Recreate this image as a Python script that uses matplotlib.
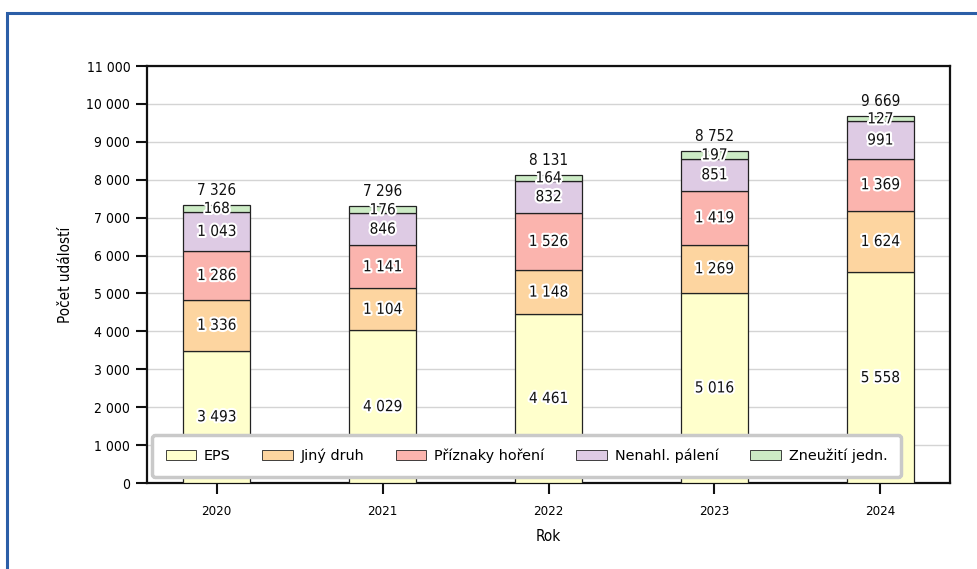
import matplotlib
matplotlib.use("Agg")
import matplotlib.pyplot as plt
import matplotlib.patheffects as pe
from matplotlib import font_manager
from matplotlib.patches import Rectangle
import numpy as np

# data
years = ["2020", "2021", "2022", "2023", "2024"]
eps = [3493, 4029, 4461, 5016, 5558]
jiny = [1336, 1104, 1148, 1269, 1624]
priznaky = [1286, 1141, 1526, 1419, 1369]
nenahl = [1043, 846, 832, 851, 991]
zneuziti = [168, 176, 164, 197, 127]
series_names = ["EPS", "Jiný druh", "Příznaky hoření", "Nenahl. pálení", "Zneužití jedn."]
series_colors = ["#ffffcc", "#fdd5a0", "#fbb4ae", "#decbe4", "#ccebc5"]
yticks = list(range(0, 11001, 1000))

# condensed font if available
names = {f.name for f in font_manager.fontManager.ttflist}
cond = "Liberation Sans Narrow" if "Liberation Sans Narrow" in names else "DejaVu Sans"
cond_kw = dict(family=[cond, "DejaVu Sans"])
if cond == "DejaVu Sans":
    cond_kw["stretch"] = "condensed"


def fmt(v):
    return f"{v:,}".replace(",", " ")


fig = plt.figure(figsize=(9.78, 5.69), dpi=100)
ax = fig.add_axes([0.1503, 0.1511, 0.8211, 0.7329])

# blue frame around the figure
fig.patches.append(Rectangle((7.5 / 978, -0.05), 1.1, 1 - 13 / 569 + 0.05,
                             transform=fig.transFigure, fill=False,
                             edgecolor="#2b5ea7", linewidth=2.2, zorder=0))

data = [eps, jiny, priznaky, nenahl, zneuziti]
x = np.arange(len(years))
bottom = np.zeros(len(years))
for vals, name, col in zip(data, series_names, series_colors):
    vals = np.array(vals)
    ax.bar(x, vals, 0.4, bottom=bottom, color=col, edgecolor="#222222",
           linewidth=0.9, label=name, zorder=3)
    for xi, b, v in zip(x, bottom, vals):
        ax.text(xi, b + v / 2, fmt(v), ha="center", va="center", fontsize=11,
                color="#111111", zorder=5,
                path_effects=[pe.withStroke(linewidth=3, foreground="white")],
                **cond_kw)
    bottom = bottom + vals

for xi, t in zip(x, bottom):
    ax.text(xi, t + 190, fmt(int(t)), ha="center", va="bottom", fontsize=11,
            color="#111111", zorder=5, **cond_kw)

ax.set_xlim(-0.42, 4.42)
ax.set_ylim(0, 11000)
ax.set_xticks(x)
ax.set_xticklabels(years, fontsize=9.5, **cond_kw)
ax.set_yticks(yticks)
ax.set_yticklabels([fmt(v) for v in yticks], fontsize=10, **cond_kw)
ax.tick_params(axis="both", direction="out", length=8, width=1.5, color="#111111")
ax.tick_params(axis="x", pad=8)
ax.tick_params(axis="y", pad=4)
for s in ax.spines.values():
    s.set_linewidth(1.6)
    s.set_color("#111111")
ax.yaxis.grid(True, color="#d4d4d4", linewidth=1, zorder=0)
ax.set_axisbelow(True)

ax.set_ylabel("Počet událostí", fontsize=11, labelpad=10, **cond_kw)
ax.set_xlabel("Rok", fontsize=11, labelpad=8, **cond_kw)

leg = ax.legend(loc="lower left", bbox_to_anchor=(0.006, 0.015), ncol=5,
                fontsize=10.4, frameon=True, fancybox=True, shadow=False,
                handlelength=2.1, handleheight=0.75, columnspacing=2.2,
                borderpad=0.95, handletextpad=0.55, borderaxespad=0)
leg.get_frame().set_edgecolor("#c9c9c9")
leg.get_frame().set_linewidth(2.5)
leg.get_frame().set_alpha(1)
leg.set_zorder(10)
for h in leg.legend_handles:
    h.set_linewidth(0.6)

fig.savefig("out.png", dpi=100)
